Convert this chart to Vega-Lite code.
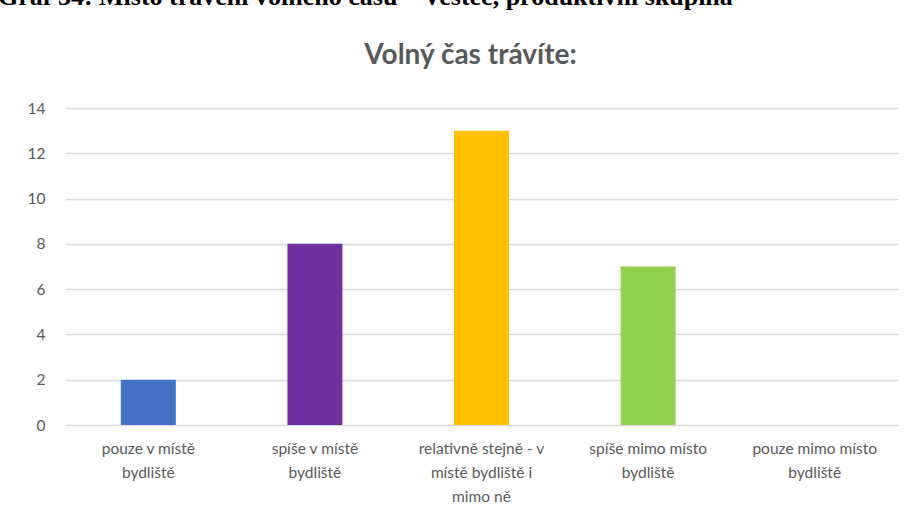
{
  "$schema": "https://vega.github.io/schema/vega-lite/v6.json",
  "autosize": {"type": "none"},
  "padding": {"left": 65, "top": 108, "right": 25, "bottom": 100},
  "width": 833,
  "height": 317,
  "background": "white",
  "title": {
    "text": "Graf 34: Místo trávení volného času – Vestec, produktivní skupina",
    "anchor": "start",
    "frame": "group",
    "font": "Liberation Serif",
    "fontWeight": "bold",
    "fontSize": 26,
    "color": "#000000",
    "baseline": "alphabetic",
    "offset": 10,
    "dx": -67
  },
  "config": {
    "view": {"stroke": null},
    "font": "Lato"
  },
  "data": {
    "values": [
      {"kategorie": "pouze v místě bydliště", "pocet": 2},
      {"kategorie": "spíše v místě bydliště", "pocet": 8},
      {"kategorie": "relativně stejně - v místě bydliště i mimo ně", "pocet": 13},
      {"kategorie": "spíše mimo místo bydliště", "pocet": 7},
      {"kategorie": "pouze mimo místo bydliště", "pocet": 0}
    ]
  },
  "layer": [
    {
      "mark": {"type": "bar"},
      "encoding": {
        "x": {
          "field": "kategorie",
          "type": "nominal",
          "sort": null,
          "scale": {"paddingInner": 0.67, "paddingOuter": 0.335},
          "axis": {
            "orient": "bottom",
            "title": null,
            "labelAngle": 0,
            "labelFont": "Lato",
            "labelFontSize": 15.5,
            "labelColor": "#595959",
            "labelPadding": 16,
            "labelLineHeight": 24,
            "labelBaseline": "top",
            "labelLimit": 200,
            "domain": false,
            "ticks": false,
            "labelExpr": "datum.value == 'pouze v místě bydliště' ? ['pouze v místě', 'bydliště'] : datum.value == 'spíše v místě bydliště' ? ['spíše v místě', 'bydliště'] : datum.value == 'relativně stejně - v místě bydliště i mimo ně' ? ['relativně stejně - v', 'místě bydliště i', 'mimo ně'] : datum.value == 'spíše mimo místo bydliště' ? ['spíše mimo místo', 'bydliště'] : ['pouze mimo místo', 'bydliště']"
          }
        },
        "y": {
          "field": "pocet",
          "type": "quantitative",
          "scale": {"domain": [0, 14]},
          "axis": {
            "title": null,
            "values": [0, 2, 4, 6, 8, 10, 12, 14],
            "labelFont": "Lato",
            "labelFontSize": 15.5,
            "labelColor": "#595959",
            "labelPadding": 20,
            "domain": false,
            "ticks": false,
            "gridColor": "#D9D9D9",
            "gridWidth": 1.3
          }
        },
        "color": {
          "field": "kategorie",
          "type": "nominal",
          "scale": {
            "domain": ["pouze v místě bydliště", "spíše v místě bydliště", "relativně stejně - v místě bydliště i mimo ně", "spíše mimo místo bydliště", "pouze mimo místo bydliště"],
            "range": ["#4472C4", "#7030A0", "#FFC000", "#92D050", "#ED7D31"]
          },
          "legend": null
        }
      }
    },
    {
      "mark": {"type": "rule", "opacity": 0},
      "encoding": {
        "x": {
          "field": "kategorie",
          "type": "nominal",
          "sort": null,
          "axis": {
            "orient": "top",
            "title": "Volný čas trávíte:",
            "titleFont": "Lato",
            "titleFontSize": 28,
            "titleFontWeight": "bold",
            "titleColor": "#595959",
            "titlePadding": 39,
            "titleX": 405,
            "labels": false,
            "ticks": false,
            "domain": false,
            "grid": false
          }
        }
      }
    }
  ]
}
